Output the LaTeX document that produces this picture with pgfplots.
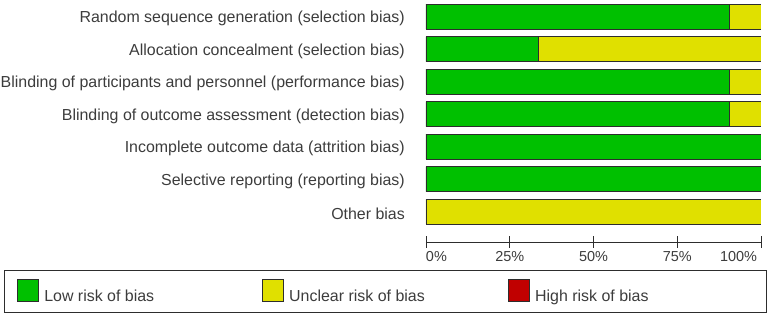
\documentclass[border=0pt]{standalone}
\usepackage{fontspec}
\setmainfont{Liberation Sans}
\usepackage{pgfplots}
\pgfplotsset{compat=1.18}

\definecolor{lowrisk}{RGB}{0,192,0}
\definecolor{unclear}{RGB}{224,224,0}
\definecolor{highrisk}{RGB}{192,0,0}
\definecolor{edge}{RGB}{45,45,45}
\definecolor{labeltext}{RGB}{60,60,60}

\pgfplotsset{
  riskbox/.style={legend image code/.code={
      \draw[##1, line width=0.9bp] (0bp,-5bp) rectangle (21bp,17bp);}},
}

\begin{document}
\begin{tikzpicture}
\begin{axis}[
  name=ax,
  scale only axis,
  width=335bp, height=241.7bp,
  xbar stacked,
  bar width=0.77,
  xmin=0, xmax=100,
  ymin=-0.938, ymax=6.5,
  axis x line*=bottom,
  axis y line*=left,
  y axis line style={draw=none},
  x axis line style={draw=edge, line width=0.9bp},
  ytick={0,...,6},
  yticklabels={
    Other bias,
    Selective reporting (reporting bias),
    Incomplete outcome data (attrition bias),
    Blinding of outcome assessment (detection bias),
    Blinding of participants and personnel (performance bias),
    Allocation concealment (selection bias),
    Random sequence generation (selection bias)},
  ytick style={draw=none},
  yticklabel style={font=\fontsize{16}{18}\selectfont, text=labeltext,
    inner sep=0pt, xshift=-15bp, yshift=-2bp},
  xtick={0,25,50,75,100},
  xticklabels={\makebox[0pt][l]{0\%},25\%,50\%,75\%,\makebox[0pt][r]{100\%\kern4bp}},
  xtick style={draw=edge, line width=0.9bp},
  tick align=center,
  major tick length=12bp,
  xticklabel style={font=\fontsize{14.5}{16}\selectfont, text=labeltext},
  legend columns=3,
  legend style={
    at={(-1.2597,-0.1146)}, anchor=north west,
    draw=edge, line width=0.9bp,
    inner xsep=13bp, inner ysep=9bp,
    nodes={inner sep=0pt, font=\fontsize{16}{18}\selectfont, text=labeltext},
    /tikz/every odd column/.append style={column sep=5bp},
    /tikz/every even column/.append style={column sep=0bp},
  },
]
% Share of studies per risk-of-bias judgement (percent)
\addplot+[fill=lowrisk, draw=edge, line width=0.9bp, riskbox]
  coordinates {(0,0) (100,1) (100,2) (90.6,3) (90.6,4) (33.5,5) (90.6,6)};
\addlegendentry{\makebox[218bp][l]{Low risk of bias}}
\addplot+[fill=unclear, draw=edge, line width=0.9bp, riskbox]
  coordinates {(100,0) (0,1) (0,2) (9.4,3) (9.4,4) (66.5,5) (9.4,6)};
\addlegendentry{\makebox[219bp][l]{Unclear risk of bias}}
\addlegendimage{fill=highrisk, draw=edge, riskbox}
\addlegendentry{\makebox[218bp][l]{High risk of bias}}
\end{axis}
\pgfresetboundingbox
\path[use as bounding box] (ax.south west) ++(-426bp,-73bp) rectangle ++(767bp,315bp);
\end{tikzpicture}
\end{document}
